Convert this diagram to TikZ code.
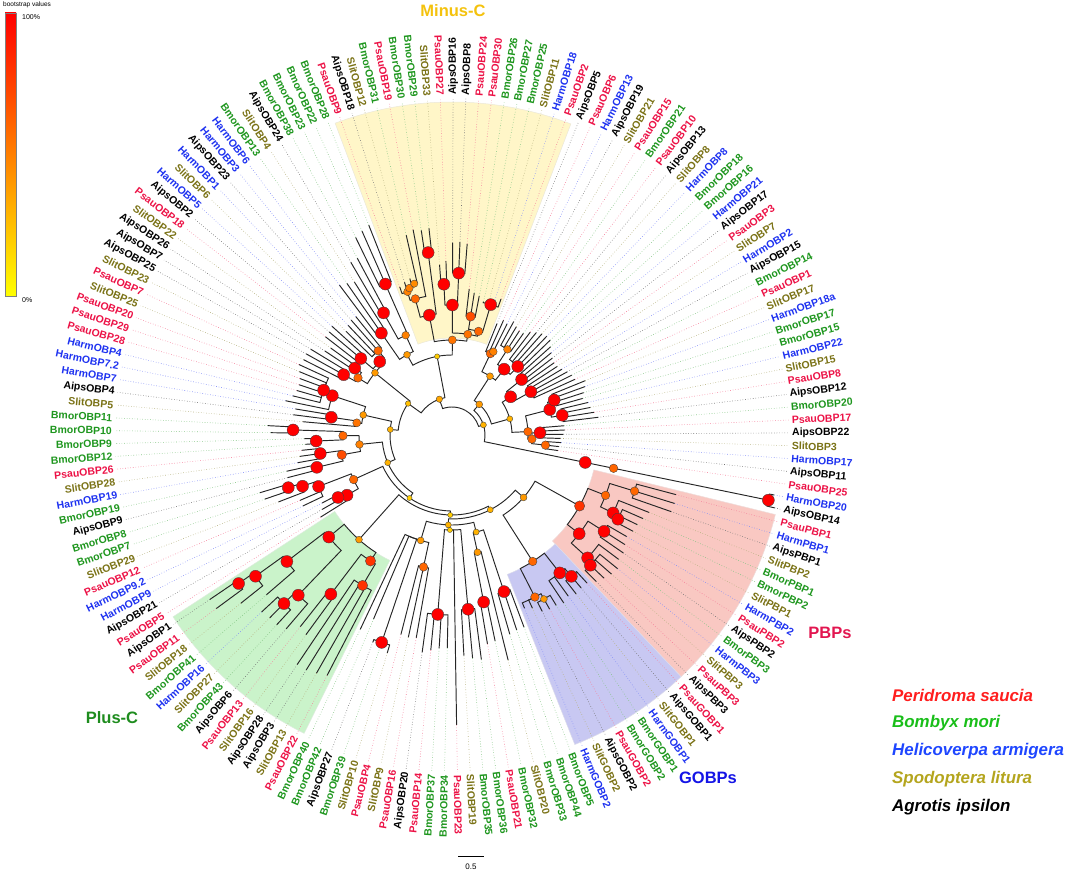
\documentclass[tikz,border=0pt]{standalone}
\usepackage{fontspec}
\setmainfont{Liberation Sans}
\pgfdeclarelayer{bgl}\pgfdeclarelayer{fgl}\pgfsetlayers{bgl,main,fgl}
\definecolor{cP}{RGB}{236,18,70}
\definecolor{cB}{RGB}{30,150,30}
\definecolor{cH}{RGB}{30,50,240}
\definecolor{cS}{RGB}{122,114,22}
\definecolor{cA}{RGB}{0,0,0}
\definecolor{lgP}{RGB}{255,30,30}
\definecolor{lgB}{RGB}{25,190,25}
\definecolor{lgH}{RGB}{30,70,255}
\definecolor{lgS}{RGB}{180,165,30}
\definecolor{secY}{RGB}{255,246,200}
\definecolor{secR}{RGB}{249,200,194}
\definecolor{secBl}{RGB}{200,200,242}
\definecolor{secG}{RGB}{202,243,202}
\definecolor{ttlY}{RGB}{244,194,13}
\definecolor{ttlR}{RGB}{226,22,80}
\definecolor{ttlB}{RGB}{20,20,230}
\definecolor{ttlG}{RGB}{30,140,30}
\pgfmathdeclarefunction{ang}{1}{\pgfmathparse{92-(#1-1)*2.1818182}}
\tikzset{
  br/.style={line width=0.95pt,black!85},
  lead/.style={dotted,line width=0.6pt},
  lab/.style={inner sep=0pt,font=\fontsize{10.5}{12}\selectfont\bfseries},
  ttl/.style={inner sep=0pt,font=\fontsize{16.5}{18}\selectfont\bfseries},
  lgd/.style={inner sep=0pt,anchor=west,font=\fontsize{16.9}{18}\selectfont\bfseries\itshape}
}
% edge: parent pos, parent r, child pos, child r
\newcommand\phbr[4]{%
  \pgfmathsetmacro\aA{ang(#1)}\pgfmathsetmacro\aB{ang(#3)}%
  \draw[br] (\aA:#2pt) arc[start angle=\aA,end angle=\aB,radius=#2pt] -- (\aB:#4pt);}
\newcommand\phdot[3]{%
  \pgfmathsetmacro\aD{ang(#1)}\pgfmathsetmacro\rD{1.7+4.3*#3/100}%
  \begin{pgfonlayer}{fgl}\filldraw[draw=black!75,line width=0.35pt,fill=red!#3!yellow] (\aD:#2pt) circle[radius=\rD pt];\end{pgfonlayer}}
\newcommand\phnd[5]{\phbr{#1}{#2}{#3}{#4}\phdot{#3}{#4}{#5}}
\newcommand\phlf[4]{%
  \phbr{#1}{#2}{#3}{#4}%
  \pgfmathsetmacro\aL{ang(#3)}%
  \edef\spL{\csname sp#3\endcsname}%
  \draw[lead,draw=c\spL!55] (\aL:#4pt) -- (\aL:337pt);}
\newcommand\phst[5]{%
  \foreach \q in {#3,...,#4}{\pgfmathsetmacro\tq{#5+5*sin(\q*37)}\phlf{#1}{#2}{\q}{\tq}}}
\newcommand\phsec[6]{%
  \pgfmathsetmacro\sa{ang(#1)}\pgfmathsetmacro\sb{ang(#2)}%
  \begin{pgfonlayer}{bgl}\filldraw[fill=#5,draw=#6,line width=0.5pt] (\sa:#3pt) arc[start angle=\sa,end angle=\sb,radius=#3pt] -- (\sb:#4pt) arc[start angle=\sb,end angle=\sa,radius=#4pt] -- cycle;\end{pgfonlayer}}
\begin{document}
\begin{tikzpicture}
\useasboundingbox (0,0) rectangle (1065pt,-877pt);
\begin{scope}[shift={(452pt,-435pt)}]
% ---------- clade highlights
\phsec{157.5}{176.5}{97}{333}{secY}{secY!80!black!40}
\phsec{49.5}{64.5}{146}{333}{secR}{secR!85!black!40}
\phsec{64.5}{74.5}{150}{333}{secBl}{secBl!85!black!40}
\phsec{96.5}{110.5}{140}{333}{secG}{secG!85!black!40}
% ---------- leaf labels
\foreach \nm/\spc [count=\k from 50] in {
PsauPBP1/P,HarmPBP1/H,AipsPBP1/A,SlitPBP2/S,BmorPBP1/B,BmorPBP2/B,SlitPBP1/S,HarmPBP2/H,PsauPBP2/P,AipsPBP2/A,
BmorPBP3/B,HarmPBP3/H,SlitPBP3/S,PsauPBP3/P,AipsPBP3/A,PsauGOBP1/P,AipsGOBP1/A,SlitGOBP1/S,HarmGOBP1/H,BmorGOBP1/B,
BmorGOBP2/B,PsauGOBP2/P,AipsGOBP2/A,SlitGOBP2/S,HarmGOBP2/H,BmorOBP5/B,BmorOBP44/B,BmorOBP33/B,SlitOBP20/S,BmorOBP32/B,
PsauOBP21/P,BmorOBP36/B,BmorOBP35/B,SlitOBP19/S,PsauOBP23/P,BmorOBP34/B,BmorOBP37/B,PsauOBP14/P,AipsOBP20/A,PsauOBP16/P,
SlitOBP9/S,PsauOBP4/P,SlitOBP10/S,BmorOBP39/B,AipsOBP27/A,BmorOBP42/B,BmorOBP40/B,PsauOBP22/P,SlitOBP13/S,AipsOBP3/A,
AipsOBP28/A,SlitOBP16/S,PsauOBP13/P,AipsOBP6/A,BmorOBP43/B,SlitOBP27/S,HarmOBP16/H,BmorOBP41/B,SlitOBP18/S,PsauOBP11/P,
AipsOBP1/A,PsauOBP5/P,AipsOBP21/A,HarmOBP9/H,HarmOBP9.2/H,PsauOBP12/P,SlitOBP29/S,BmorOBP7/B,BmorOBP8/B,AipsOBP9/A,
BmorOBP19/B,HarmOBP19/H,SlitOBP28/S,PsauOBP26/P,BmorOBP12/B,BmorOBP9/B,BmorOBP10/B,BmorOBP11/B,SlitOBP5/S,AipsOBP4/A,
HarmOBP7/H,HarmOBP7.2/H,HarmOBP4/H,PsauOBP28/P,PsauOBP29/P,PsauOBP20/P,SlitOBP25/S,PsauOBP7/P,SlitOBP23/S,AipsOBP25/A,
AipsOBP7/A,AipsOBP26/A,SlitOBP22/S,PsauOBP18/P,AipsOBP2/A,HarmOBP5/H,SlitOBP6/S,HarmOBP1/H,AipsOBP23/A,HarmOBP3/H,
HarmOBP6/H,BmorOBP13/B,SlitOBP4/S,AipsOBP24/A,BmorOBP38/B,BmorOBP23/B,BmorOBP22/B,BmorOBP28/B,PsauOBP9/P,AipsOBP18/A,
SlitOBP12/S,BmorOBP31/B,PsauOBP19/P,BmorOBP30/B,BmorOBP29/B,SlitOBP33/S,PsauOBP27/P,AipsOBP16/A,AipsOBP8/A,PsauOBP24/P,
PsauOBP30/P,BmorOBP26/B,BmorOBP27/B,BmorOBP25/B,SlitOBP11/S,HarmOBP18/H,PsauOBP2/P,AipsOBP5/A,PsauOBP6/P,HarmOBP13/H,
AipsOBP19/A,SlitOBP21/S,PsauOBP15/P,BmorOBP21/B,PsauOBP10/P,AipsOBP13/A,SlitOBP8/S,HarmOBP8/H,BmorOBP18/B,BmorOBP16/B,
HarmOBP21/H,AipsOBP17/A,PsauOBP3/P,SlitOBP7/S,HarmOBP2/H,AipsOBP15/A,BmorOBP14/B,PsauOBP1/P,SlitOBP17/S,HarmOBP18a/H,
BmorOBP17/B,BmorOBP15/B,HarmOBP22/H,SlitOBP15/S,PsauOBP8/P,AipsOBP12/A,BmorOBP20/B,PsauOBP17/P,AipsOBP22/A,SlitOBP3/S,
HarmOBP17/H,AipsOBP11/A,PsauOBP25/P,HarmOBP20/H,AipsOBP14/A}{
  \expandafter\xdef\csname sp\k\endcsname{\spc}%
  \pgfmathsetmacro\thL{mod(ang(\k)+720,360)}%
  \pgfmathtruncatemacro\rgt{or(\thL<90,\thL>270)}%
  \ifnum\rgt=1
    \node[lab,text=c\spc,anchor=west,rotate=\thL] (L\k) at (\thL:340pt) {\nm};
  \else
    \pgfmathsetmacro\trL{\thL-180}%
    \node[lab,text=c\spc,anchor=east,rotate=\trL] (L\k) at (\thL:340pt) {\nm};
  \fi
}
% ---------- tree: root
\phnd{180}{28}{158}{38}{35}
\phnd{180}{28}{200}{33}{30}
% Rest
\phnd{158}{38}{162}{80}{20}
\phnd{158}{38}{142}{54}{25}
% U
\phnd{162}{80}{153.5}{92}{40}
\phnd{162}{80}{167}{95}{55}
% LL
\phnd{153.5}{92}{151}{124}{100}
\phst{151}{124}{150}{152}{185}
\phnd{153.5}{92}{155.5}{110}{50}
\phnd{155.5}{110}{153.5}{140}{100}
\phst{153.5}{140}{153}{154}{205}
\phnd{155.5}{110}{156}{165}{100}
\phst{156}{165}{155}{157}{222}
% Minus-C
\phnd{167}{95}{162}{122}{100}
\phnd{167}{95}{171}{102}{55}
\phnd{162}{122}{160}{141}{60}
\phnd{162}{122}{163.5}{184}{100}
\phst{163.5}{184}{163}{164}{212}
\phnd{160}{141}{159}{150}{50}
\phlf{160}{141}{162}{209}
\phlf{159}{150}{158}{157}
\phnd{159}{150}{159.5}{153}{50}
\phlf{159.5}{153}{159}{160}
\phnd{159.5}{153}{160.5}{156}{45}
\phlf{160.5}{156}{160}{162}
\phlf{160.5}{156}{161}{205}
\phnd{171}{102}{167}{130}{100}
\phnd{171}{102}{173.5}{107}{60}
\phnd{167}{130}{165.5}{151}{100}
\phst{165.5}{151}{165}{166}{172}
\phnd{167}{130}{168}{162}{100}
\phst{168}{162}{167}{169}{188}
\phnd{173.5}{107}{171}{120}{70}
\phst{171}{120}{170}{172}{146}
\phnd{173.5}{107}{174.5}{136}{100}
\phst{174.5}{136}{173}{176}{142}
% S1
\phnd{142}{54}{143.5}{99}{40}
\phnd{142}{54}{128}{62}{30}
\phnd{143.5}{99}{140}{110}{60}
\phnd{143.5}{99}{146.5}{103}{100}
\phnd{140}{110}{139}{124}{100}
\phst{139}{124}{138}{140}{162}
\phnd{140}{110}{141.5}{118}{100}
\phst{141.5}{118}{141}{142}{152}
\phnd{146.5}{103}{144}{119}{100}
\phst{144}{119}{143}{145}{165}
\phnd{146.5}{103}{148}{112}{60}
\phst{148}{112}{146}{149}{148}
% S2
\phnd{128}{62}{131.5}{91}{40}
\phnd{128}{62}{115}{70}{30}
\phnd{131.5}{91}{129}{96}{55}
\phlf{129}{96}{128}{150}
\phnd{129}{96}{129.5}{122}{100}
\phst{129.5}{122}{129}{130}{155}
\phnd{131.5}{91}{134}{126}{100}
\phlf{134}{126}{131}{170}
\phnd{134}{126}{134.5}{136}{100}
\phst{134.5}{136}{132}{137}{166}
% S3
\phnd{115}{70}{123}{93}{50}
\phnd{115}{70}{100}{76}{20}
\phnd{123}{93}{121}{112}{70}
\phnd{123}{93}{125.5}{109}{60}
\phnd{121}{112}{119.5}{139}{100}
\phst{119.5}{139}{119}{120}{165}
\phnd{121}{112}{122}{133}{100}
\phst{122}{133}{121}{123}{155}
\phnd{125.5}{109}{124.5}{136}{100}
\phst{124.5}{136}{124}{125}{152}
\phnd{125.5}{109}{126.5}{159}{100}
\phst{126.5}{159}{126}{127}{183}
% S4
\phnd{100}{76}{114.5}{108}{60}
\phnd{100}{76}{85}{80}{20}
\phnd{114.5}{108}{112}{121}{100}
\phlf{112}{121}{111}{155}
\phnd{112}{121}{112.5}{130}{100}
\phst{112.5}{130}{112}{113}{150}
\phnd{114.5}{108}{116}{143}{100}
\phst{116}{143}{114}{115}{170}
\phnd{116}{143}{117}{158}{100}
\phlf{117}{158}{116}{186}
\phnd{117}{158}{117.5}{172}{100}
\phst{117.5}{172}{117}{118}{197}
% S5 / Plus-C
\phnd{85}{80}{103.5}{140}{40}
\phnd{85}{80}{72}{84}{30}
\phnd{103.5}{140}{107.5}{160}{100}
\phnd{103.5}{140}{99.5}{150}{80}
\phnd{107.5}{160}{108.5}{208}{100}
\phnd{107.5}{160}{104.5}{222}{100}
\phlf{108.5}{208}{107}{245}
\phnd{108.5}{208}{109.3}{242}{100}
\phlf{109.3}{242}{108}{270}
\phnd{109.3}{242}{109.7}{260}{100}
\phst{109.7}{260}{109}{110}{288}
\phlf{104.5}{222}{103}{255}
\phnd{104.5}{222}{105}{238}{100}
\phst{105}{238}{104}{106}{263}
\phnd{99.5}{150}{101.5}{200}{100}
\phst{101.5}{200}{101}{102}{244}
\phnd{99.5}{150}{98.5}{175}{80}
\phst{98.5}{175}{97}{100}{272}
% S6
\phnd{72}{84}{85.5}{90}{30}
\phnd{72}{84}{62}{95}{40}
\phnd{85.5}{90}{78}{100}{30}
\phnd{85.5}{90}{85}{95}{20}
\phnd{85.5}{90}{92}{110}{40}
\phnd{78}{100}{76}{165}{100}
\phst{76}{165}{75}{77}{210}
\phnd{78}{100}{78.8}{120}{40}
\phlf{78.8}{120}{78}{232}
\phnd{78.8}{120}{79.5}{170}{100}
\phst{79.5}{170}{79}{80}{207}
\phnd{85}{95}{82}{175}{100}
\phst{82}{175}{81}{83}{222}
\phlf{85}{95}{84}{290}
\phnd{85}{95}{86.5}{180}{100}
\phst{86.5}{180}{85}{88}{218}
\phnd{92}{110}{90}{135}{60}
\phst{90}{135}{89}{91}{202}
\phnd{92}{110}{93}{219}{100}
\phst{93}{219}{92}{94}{226}
\phlf{92}{110}{95}{200}
\phlf{92}{110}{96}{215}
% PBPs and GOBPs
\phnd{62}{95}{56.5}{146}{80}
\phnd{62}{95}{69.5}{150}{60}
\phnd{56.5}{146}{53}{165}{60}
\phnd{56.5}{146}{60.5}{161}{100}
\phnd{53}{165}{51}{191}{60}
\phst{51}{191}{50}{52}{228}
\phnd{53}{165}{55}{179}{100}
\phlf{55}{179}{53}{212}
\phnd{55}{179}{55.5}{186}{100}
\phst{55.5}{186}{54}{56}{210}
\phnd{60.5}{161}{58}{180}{100}
\phst{58}{180}{57}{59}{206}
\phnd{60.5}{161}{62.5}{183}{100}
\phlf{62.5}{183}{60}{208}
\phnd{62.5}{183}{63}{190}{100}
\phst{63}{190}{61}{64}{208}
\phnd{69.5}{150}{67}{175}{100}
\phnd{69.5}{150}{72}{182}{60}
\phnd{67}{175}{66}{185}{100}
\phst{66}{185}{65}{67}{205}
\phst{67}{175}{68}{69}{199}
\phnd{72}{182}{71}{188}{40}
\phst{71}{188}{70}{72}{195}
\phst{72}{182}{73}{74}{191}
% Q
\phnd{200}{33}{186}{41}{40}
\phnd{200}{33}{213.5}{136}{100}
\phnd{213.5}{136}{213.5}{165}{60}
\phnd{213.5}{165}{213.5}{323}{100}
\phst{213.5}{323}{213}{214}{331}
\phnd{186}{41}{182}{70}{40}
\phnd{186}{41}{201}{60}{30}
\phnd{182}{70}{178.5}{90}{60}
\phlf{178.5}{90}{177}{120}
\phnd{178.5}{90}{179}{93}{50}
\phst{179}{93}{178}{179}{121}
\phnd{182}{70}{184.5}{84}{100}
\phnd{184.5}{84}{182}{102}{50}
\phst{182}{102}{180}{183}{129}
\phnd{184.5}{84}{187}{95}{100}
\phst{187}{95}{184}{188}{132}
\phnd{201}{60}{193}{70}{100}
\phnd{201}{60}{207}{76}{60}
\phnd{193}{70}{190.5}{89}{100}
\phst{190.5}{89}{189}{192}{130}
\phnd{193}{70}{195}{90}{100}
\phst{195}{90}{193}{197}{130}
\phnd{207}{76}{201.5}{101}{100}
\phnd{201.5}{101}{199.5}{108}{100}
\phst{199.5}{108}{198}{201}{140}
\phnd{201.5}{101}{203.5}{112}{100}
\phst{203.5}{112}{202}{205}{145}
\phnd{207}{76}{209.5}{80}{60}
\phnd{209.5}{80}{207.5}{88}{100}
\phst{207.5}{88}{206}{209}{108}
\phnd{209.5}{80}{211}{94}{60}
\phst{211}{94}{210}{212}{112}
\end{scope}
% ---------- clade titles
\node[ttl,text=ttlY] (tMinus) at (453pt,-11pt) {Minus-C};
\node[ttl,text=ttlR] (tPBP) at (830pt,-633pt) {PBPs};
\node[ttl,text=ttlB] (tGOBP) at (708pt,-778pt) {GOBPs};
\node[ttl,text=ttlG] (tPlus) at (112pt,-718pt) {Plus-C};
% ---------- species legend
\node[lgd,text=lgP] (s1) at (892pt,-695pt) {Peridroma saucia};
\node[lgd,text=lgB] (s2) at (892pt,-723pt) {Bombyx mori};
\node[lgd,text=lgH] (s3) at (892pt,-751pt) {Helicoverpa armigera};
\node[lgd,text=lgS] (s4) at (892pt,-779pt) {Spodoptera litura};
\node[lgd,text=black] (s5) at (892pt,-807pt) {Agrotis ipsilon};
% ---------- bootstrap colour bar
\shade[top color=red,bottom color=yellow,middle color=orange] (5pt,-13pt) rectangle (16pt,-296pt);
\draw[black!50,line width=0.3pt] (5pt,-13pt) rectangle (16pt,-296pt);
\node[inner sep=0pt,anchor=west,font=\fontsize{6.5}{7}\selectfont] (bv) at (3pt,-5pt) {bootstrap values};
\node[inner sep=0pt,anchor=west,font=\fontsize{7}{8}\selectfont] (b100) at (22pt,-17pt) {100\%};
\node[inner sep=0pt,anchor=west,font=\fontsize{7}{8}\selectfont] (b0) at (22pt,-300pt) {0\%};
% ---------- scale bar
\coordinate (sbA) at (458pt,-856pt);
\coordinate (sbB) at (484pt,-856pt);
\draw[line width=0.7pt] (sbA) -- (sbB);
\node[inner sep=0pt,font=\fontsize{8}{9}\selectfont] (sbl) at (471pt,-867pt) {0.5};
\end{tikzpicture}
\end{document}
